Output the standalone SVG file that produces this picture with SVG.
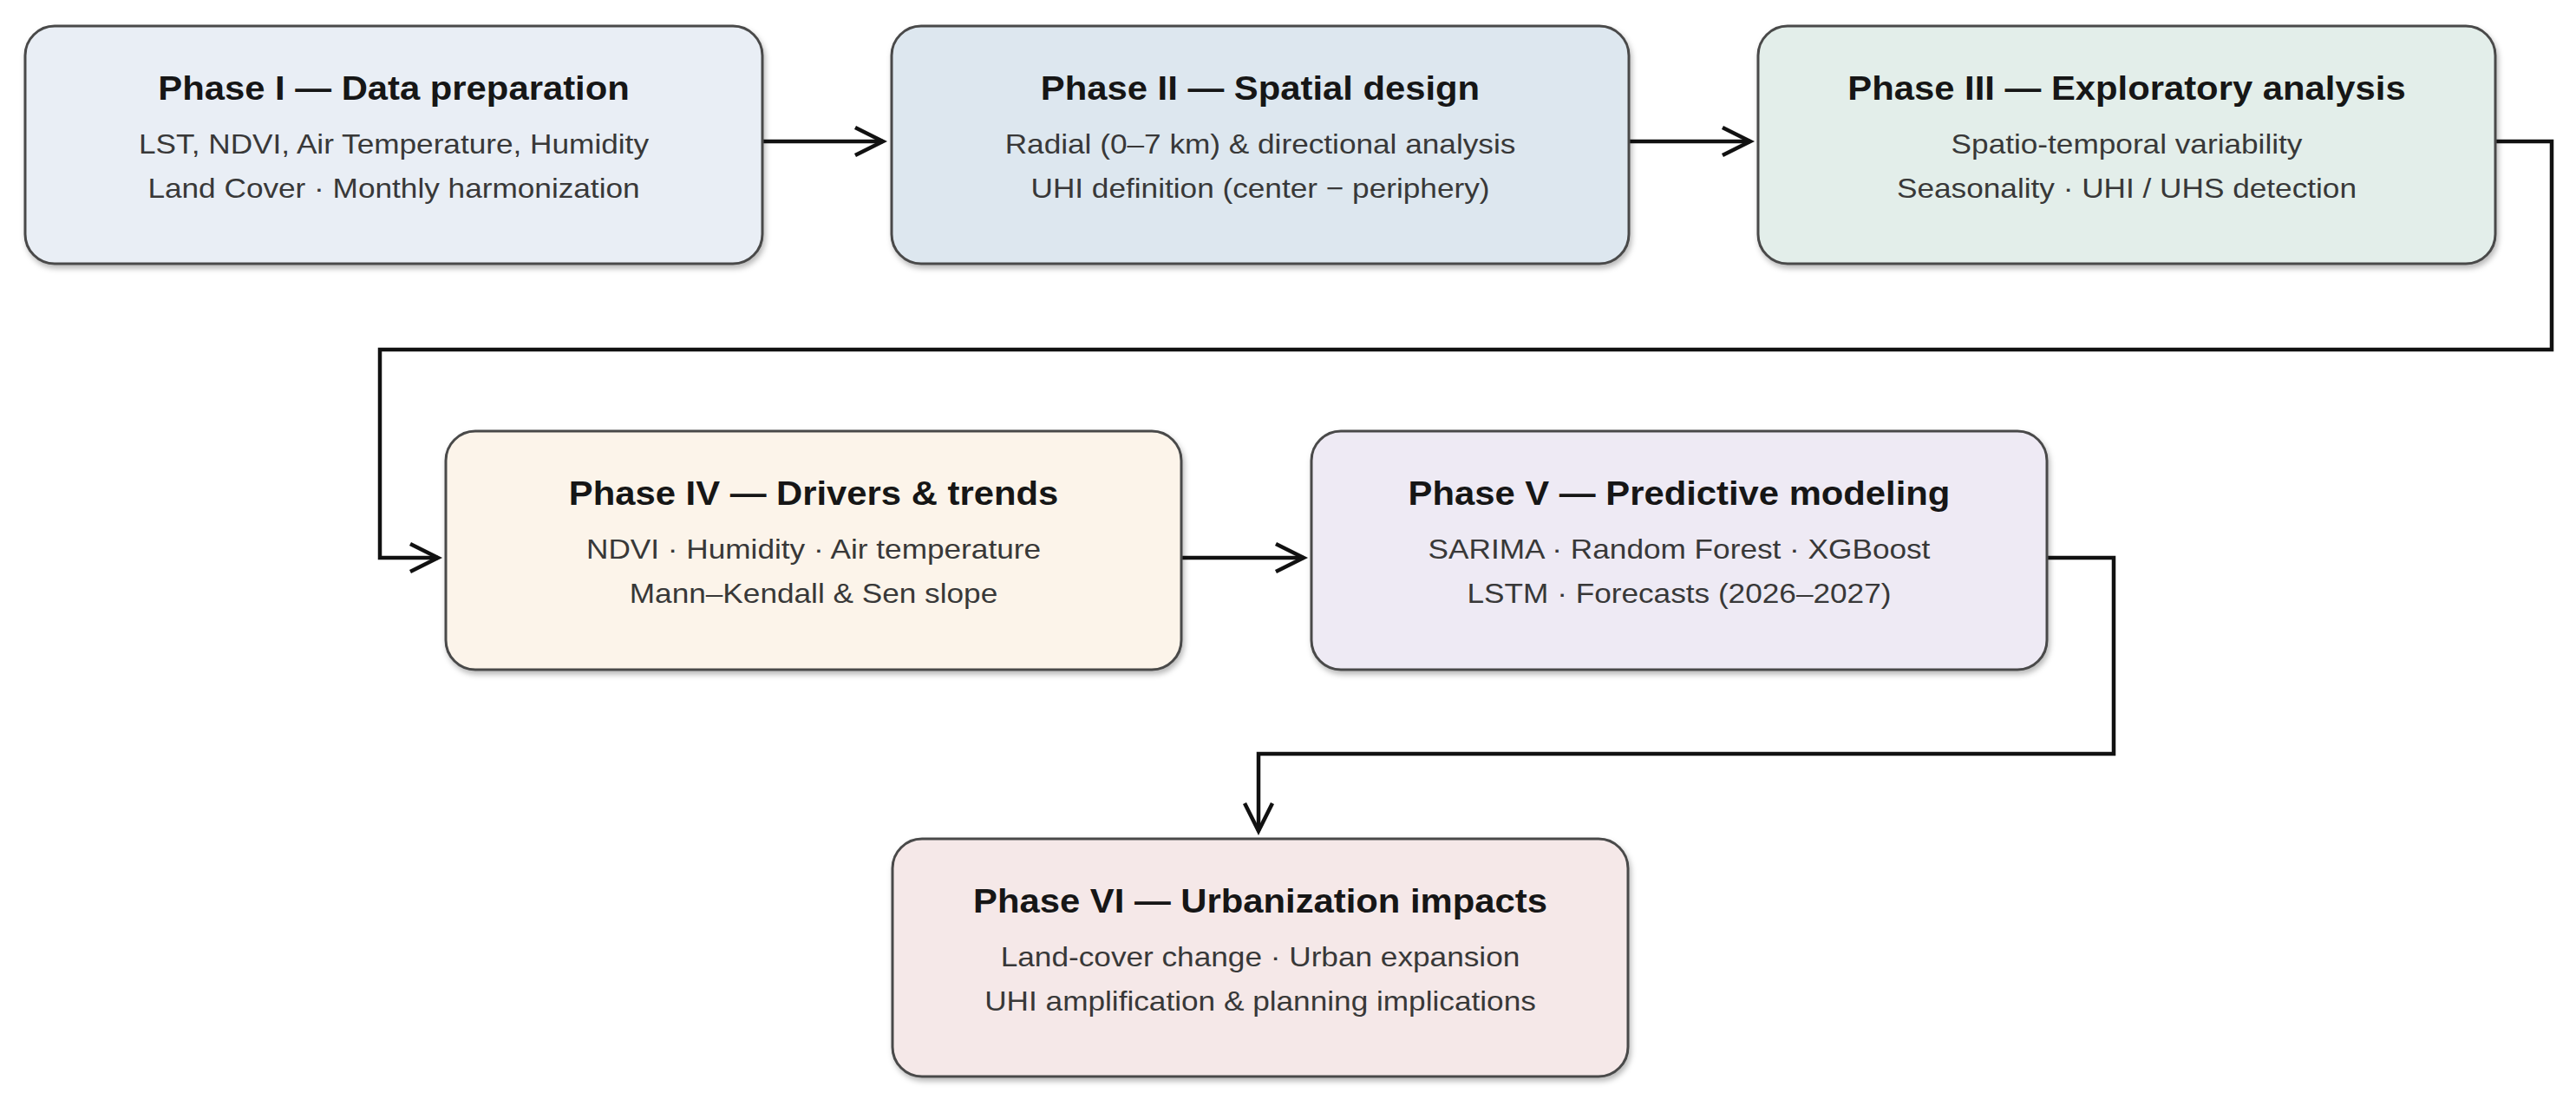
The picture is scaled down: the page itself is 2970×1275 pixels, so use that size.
<svg xmlns="http://www.w3.org/2000/svg" width="2970" height="1275" viewBox="0 0 2970 1275">
  <style>
    .box { stroke: #4a4a4a; stroke-width: 3; filter: url(#sh); }
    .title { font-family: "Liberation Sans", Arial, sans-serif; font-weight: bold; font-size: 38px; fill: #161616; text-anchor: middle; }
    .body { font-family: "Liberation Sans", Arial, sans-serif; font-size: 32px; fill: #383838; text-anchor: middle; }
    .conn { fill: none; stroke: #111; stroke-width: 4.5; stroke-linejoin: miter; marker-end: url(#arr); }
  </style>
  <defs>
    <filter id="sh" x="-5%" y="-5%" width="110%" height="115%">
      <feDropShadow dx="2" dy="4" stdDeviation="3" flood-color="#000" flood-opacity="0.28"/>
    </filter>
    <marker id="arr" markerUnits="userSpaceOnUse" viewBox="-40 -22 46 44" refX="0" refY="0" markerWidth="46" markerHeight="44" orient="auto">
      <path d="M-32,-16 L0,0 L-32,16" fill="none" stroke="#111" stroke-width="4.5"/>
    </marker>
  </defs>
  <rect width="2970" height="1275" fill="#ffffff"/>

  <g id="connectors">
    <path class="conn" d="M879,163 H1018"/>
    <path class="conn" d="M1878,163 H2018"/>
    <path class="conn" d="M2877,163 H2942 V403 H438 V643 H505"/>
    <path class="conn" d="M1362,643 H1503"/>
    <path class="conn" d="M2360,643 H2437 V869 H1451 V958"/>
  </g>

  <g id="phase1">
    <rect class="box" x="29" y="30" width="850" height="274" rx="34" fill="#e9eef5"/>
    <g transform="translate(454,0) scale(1.1,1)">
      <text class="title" x="0" y="115">Phase I — Data preparation</text>
      <text class="body" x="0" y="177">LST, NDVI, Air Temperature, Humidity</text>
      <text class="body" x="0" y="228">Land Cover · Monthly harmonization</text>
    </g>
  </g>

  <g id="phase2">
    <rect class="box" x="1028" y="30" width="850" height="274" rx="34" fill="#dde7ef"/>
    <g transform="translate(1453,0) scale(1.1,1)">
      <text class="title" x="0" y="115">Phase II — Spatial design</text>
      <text class="body" x="0" y="177">Radial (0–7 km) &amp; directional analysis</text>
      <text class="body" x="0" y="228">UHI definition (center − periphery)</text>
    </g>
  </g>

  <g id="phase3">
    <rect class="box" x="2027" y="30" width="850" height="274" rx="34" fill="#e3eeea"/>
    <g transform="translate(2452,0) scale(1.1,1)">
      <text class="title" x="0" y="115">Phase III — Exploratory analysis</text>
      <text class="body" x="0" y="177">Spatio-temporal variability</text>
      <text class="body" x="0" y="228">Seasonality · UHI / UHS detection</text>
    </g>
  </g>

  <g id="phase4">
    <rect class="box" x="514" y="497" width="848" height="275" rx="34" fill="#fcf4ea"/>
    <g transform="translate(938,0) scale(1.1,1)">
      <text class="title" x="0" y="582">Phase IV — Drivers &amp; trends</text>
      <text class="body" x="0" y="644">NDVI · Humidity · Air temperature</text>
      <text class="body" x="0" y="695">Mann–Kendall &amp; Sen slope</text>
    </g>
  </g>

  <g id="phase5">
    <rect class="box" x="1512" y="497" width="848" height="275" rx="34" fill="#eeeaf4"/>
    <g transform="translate(1936,0) scale(1.1,1)">
      <text class="title" x="0" y="582">Phase V — Predictive modeling</text>
      <text class="body" x="0" y="644">SARIMA · Random Forest · XGBoost</text>
      <text class="body" x="0" y="695">LSTM · Forecasts (2026–2027)</text>
    </g>
  </g>

  <g id="phase6">
    <rect class="box" x="1029" y="967" width="848" height="274" rx="34" fill="#f5e8e8"/>
    <g transform="translate(1453,0) scale(1.1,1)">
      <text class="title" x="0" y="1052">Phase VI — Urbanization impacts</text>
      <text class="body" x="0" y="1114">Land-cover change · Urban expansion</text>
      <text class="body" x="0" y="1165">UHI amplification &amp; planning implications</text>
    </g>
  </g>
</svg>
